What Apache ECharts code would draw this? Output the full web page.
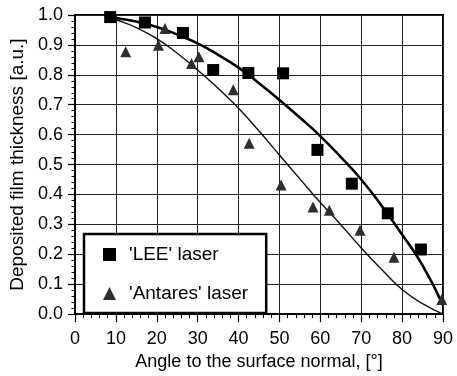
<!DOCTYPE html>
<html>
<head>
<meta charset="utf-8">
<script src="https://cdn.jsdelivr.net/npm/echarts@6/dist/echarts.min.js"></script>
<style>
  html, body { margin: 0; padding: 0; background: #fff; }
  #chart { width: 457px; height: 376px; }
</style>
</head>
<body>
<div id="chart"></div>
<script>
// Measured film thickness vs. angle to the surface normal
const leeAngles     = [8.6, 17.1, 26.4, 33.8, 42.4, 50.9, 59.3, 67.7, 76.5, 84.6];
const leeThickness  = [0.993, 0.975, 0.94, 0.816, 0.806, 0.805, 0.549, 0.436, 0.337, 0.216];

const antaresAngles    = [12.4, 20.4, 22.0, 28.5, 30.3, 38.7, 42.6, 50.4, 58.2, 62.2, 69.7, 78.0, 89.7];
const antaresThickness = [0.877, 0.899, 0.955, 0.838, 0.86, 0.75, 0.571, 0.432, 0.358, 0.347, 0.28, 0.19, 0.049];

// Fitted curves
const fitAngles      = [8.5, 10, 15, 20, 25, 30, 35, 40, 45, 50, 55, 60, 65, 70, 75, 80, 85, 90];
const leeFit         = [0.995, 0.99, 0.978, 0.96, 0.935, 0.905, 0.867, 0.824, 0.772, 0.716, 0.657, 0.595, 0.525, 0.45, 0.362, 0.266, 0.163, 0.03];
const antaresFit     = [0.993, 0.985, 0.958, 0.921, 0.872, 0.816, 0.755, 0.688, 0.612, 0.532, 0.452, 0.373, 0.299, 0.221, 0.149, 0.082, 0.035, 0.0];

const xTicks = { min: 0, max: 90, step: 10 };
const yTicks = { min: 0, max: 1, step: 0.1 };

const pairs = (xs, ys) => xs.map((x, i) => [x, ys[i]]);

const FONT = '"Liberation Sans", Arial, Helvetica, sans-serif';

const chart = echarts.init(document.getElementById('chart'), null, { renderer: 'canvas' });

chart.setOption({
  animation: false,
  backgroundColor: '#fff',
  textStyle: { fontFamily: FONT, color: '#000' },
  grid: {
    left: 75, top: 15, width: 368, height: 300,
    show: true, borderColor: '#000', borderWidth: 2
  },
  xAxis: {
    type: 'value',
    min: xTicks.min, max: xTicks.max, interval: xTicks.step,
    name: 'Angle to the surface normal, [°]',
    nameLocation: 'middle', nameGap: 36,
    nameTextStyle: { fontSize: 18, fontFamily: FONT, color: '#000' },
    axisLine: { show: true, lineStyle: { color: '#000', width: 2 } },
    axisTick: { show: true, inside: false, length: 8, lineStyle: { color: '#000', width: 1.2 } },
    minorTick: { show: true, splitNumber: 5, length: 4, lineStyle: { color: '#000', width: 1 } },
    axisLabel: { fontSize: 18, fontFamily: FONT, color: '#000', margin: 16 },
    splitLine: { show: true, lineStyle: { color: '#222', width: 1 } }
  },
  yAxis: {
    type: 'value',
    min: yTicks.min, max: yTicks.max, interval: yTicks.step,
    name: 'Deposited film thickness [a.u.]',
    nameLocation: 'middle', nameGap: 42, nameRotate: 90,
    nameTextStyle: { fontSize: 19, fontFamily: FONT, color: '#000' },
    axisLine: { show: true, lineStyle: { color: '#000', width: 2 } },
    axisTick: { show: true, inside: false, length: 7, lineStyle: { color: '#000', width: 1.2 } },
    minorTick: { show: true, splitNumber: 5, length: 3.5, lineStyle: { color: '#000', width: 1 } },
    axisLabel: {
      fontSize: 18, fontFamily: FONT, color: '#000', margin: 12,
      formatter: v => v.toFixed(1)
    },
    splitLine: { show: true, lineStyle: { color: '#222', width: 1 } }
  },
  legend: {
    orient: 'vertical',
    left: 84, top: 234,
    padding: [10, 18, 9, 19],
    itemGap: 18,
    itemWidth: 13, itemHeight: 13,
    backgroundColor: '#fff',
    borderColor: '#000', borderWidth: 2.5, borderRadius: 0,
    textStyle: { fontSize: 19, fontFamily: FONT, color: '#000', lineHeight: 21, padding: [0, 0, 0, 8] },
    data: [
      { name: "'LEE' laser", icon: 'rect' },
      { name: "'Antares' laser", icon: 'triangle' }
    ]
  },
  series: [
    {
      name: 'LEE fit', type: 'line', smooth: true, showSymbol: false, symbol: 'none',
      data: pairs(fitAngles, leeFit),
      lineStyle: { color: '#000', width: 2.6 }, z: 2
    },
    {
      name: 'Antares fit', type: 'line', smooth: true, showSymbol: false, symbol: 'none',
      data: pairs(fitAngles, antaresFit),
      lineStyle: { color: '#111', width: 1.4 }, z: 2
    },
    {
      name: "'LEE' laser", type: 'scatter', symbol: 'rect', symbolSize: 12,
      data: pairs(leeAngles, leeThickness),
      itemStyle: { color: '#000', opacity: 1 }, z: 4
    },
    {
      name: "'Antares' laser", type: 'scatter', symbol: 'triangle', symbolSize: 11,
      data: pairs(antaresAngles, antaresThickness),
      itemStyle: { color: '#2e2e2e', opacity: 1 }, z: 3
    }
  ]
});
</script>
</body>
</html>
